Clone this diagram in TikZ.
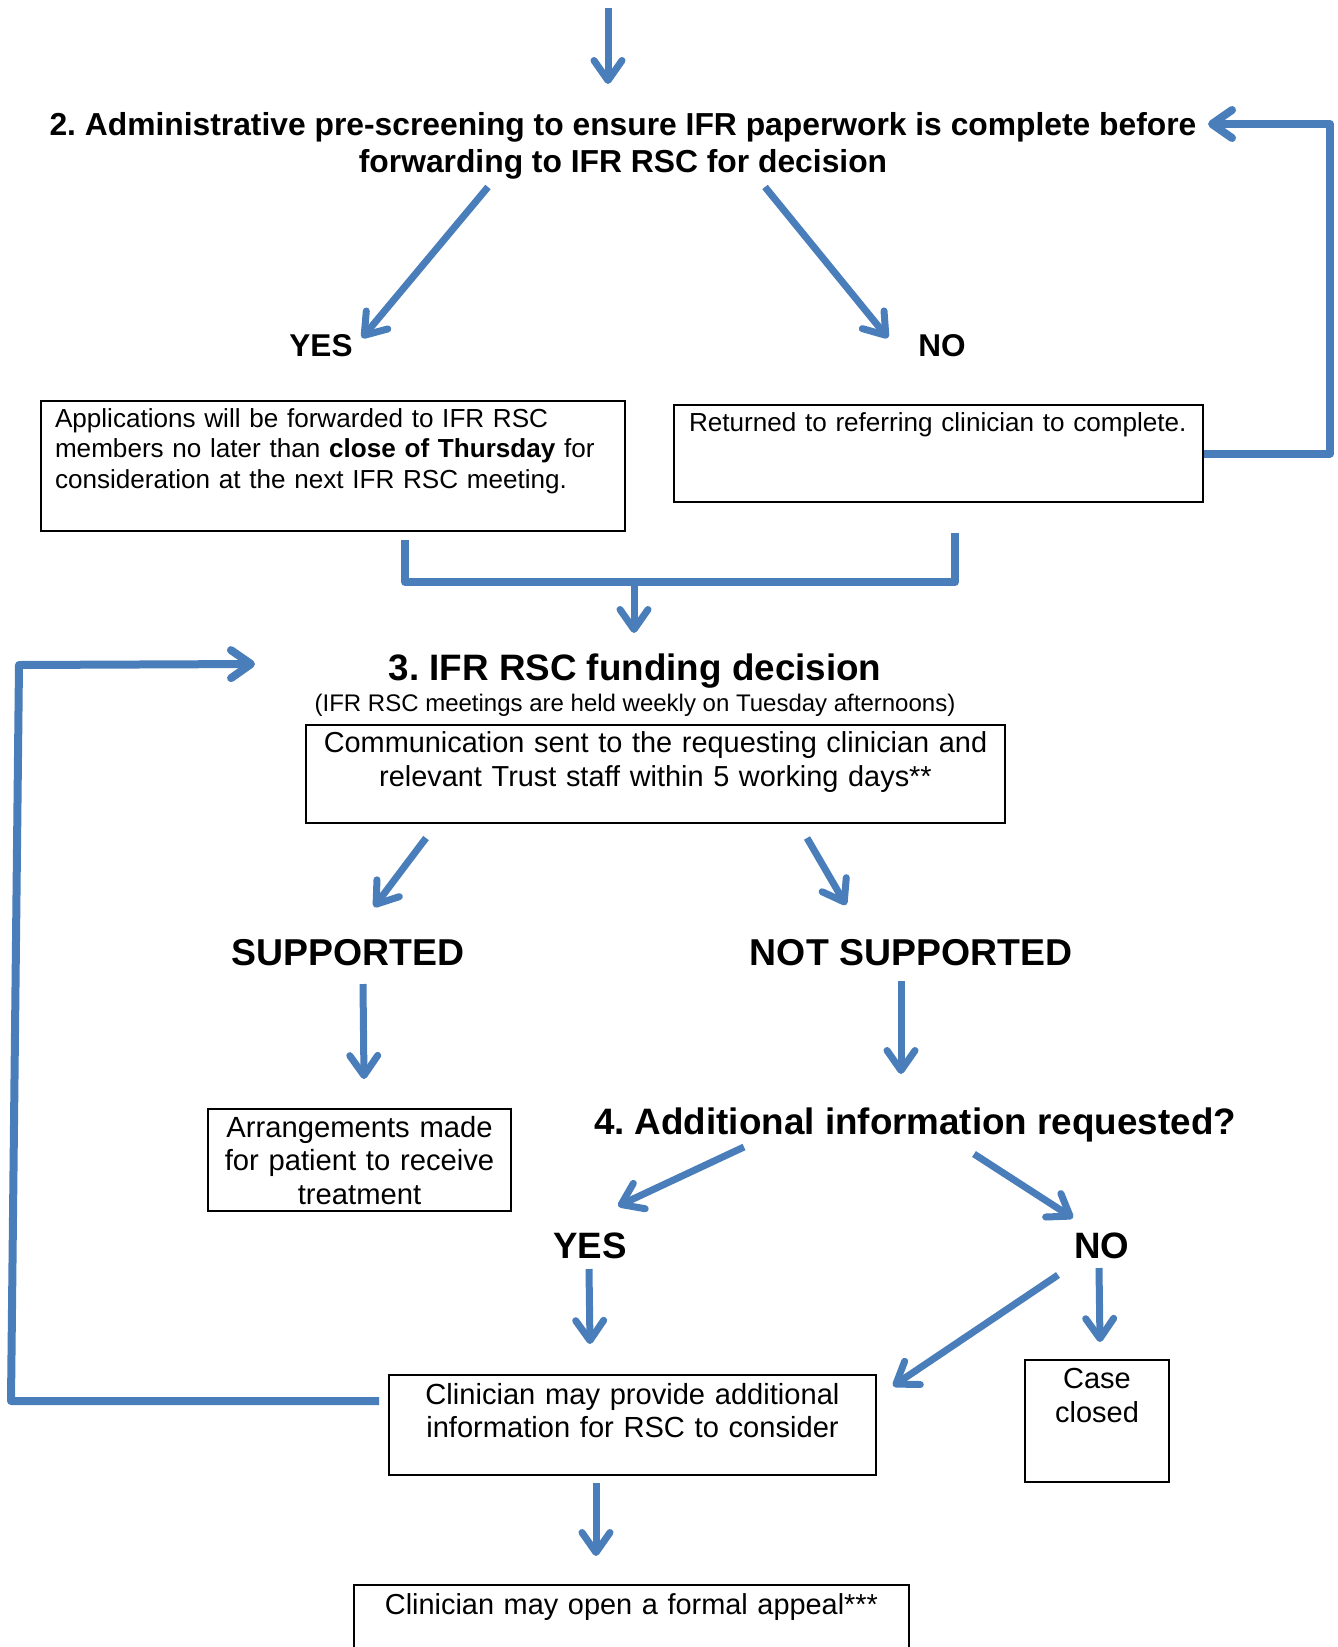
\documentclass[tikz,border=0pt]{standalone}
\usepackage{fontspec}
\setmainfont{Liberation Sans}
\usetikzlibrary{arrows.meta,calc}
\definecolor{ifrblue}{HTML}{4A7EBB}
\frenchspacing
\tikzset{
  arr/.style={draw=ifrblue, line width=7, -{Straight Barb[length=20pt,width=28pt,round]}},
  loopline/.style={draw=ifrblue, line width=8, line join=round},
  head/.style n args={2}{inner sep=0, align=center, font=\bfseries\fontsize{#1}{#2}\selectfont},
  box/.style n args={2}{draw, line width=2, anchor=north west, inner xsep=14, inner ysep=6,
    font=\fontsize{#1}{#2}\selectfont},
}

\begin{document}
\begin{tikzpicture}[x=1pt,y=-1pt]
\useasboundingbox (0,0) rectangle (1338,1647);

\coordinate (entry) at (608,8);
\node[head={31.8}{37}] (title2) at (623,146)
  {2. Administrative pre-screening to ensure IFR paperwork is complete before\\forwarding to IFR RSC for decision};
\node[head={31.5}{35}] (yes1) at (321,346) {YES};
\node[head={31.5}{35}] (no1) at (942,346) {NO};
\node[box={26.1}{30.5}, align=left, text width=556, text height=20, text depth=98] (apply) at (40,400)
  {Applications will be forwarded to IFR RSC\\members no later than \textbf{close of Thursday} for\\consideration at the next IFR RSC meeting.};
\node[box={26.1}{30.5}, inner xsep=15, align=left, text width=499, text height=20, text depth=65] (returned) at (673,404)
  {Returned to referring clinician to complete.};

\node[head={36.8}{42}] (title3) at (635,671) {3. IFR RSC funding decision};
\node[inner sep=0, font=\fontsize{24}{28}\selectfont] (sub3) at (635,705)
  {(IFR RSC meetings are held weekly on Tuesday afternoons)};
\node[box={28.9}{34.7}, align=center, text width=671, text height=21, text depth=65] (comm) at (305,724)
  {Communication sent to the requesting clinician and\\relevant Trust staff within 5 working days**};

\node[head={37.4}{42}] (supp) at (348,953) {SUPPORTED};
\node[head={37.4}{42}] (notsupp) at (911,953) {NOT SUPPORTED};
\node[box={29.2}{33.5}, inner xsep=6, align=center, text width=291, text height=22, text depth=68] (arrange) at (207,1108)
  {Arrangements made\\for patient to receive\\treatment};
\node[head={36.8}{42}] (title4) at (915,1125) {4. Additional information requested?};
\node[head={36.7}{42}] (yes2) at (590,1246) {YES};
\node[head={36.7}{42}] (no2) at (1102,1246) {NO};

\node[box={29.1}{33}, align=center, text width=459, text height=23, text depth=65] (clin) at (388,1374)
  {Clinician may provide additional\\information for RSC to consider};
\node[box={29}{34}, align=center, text width=116, text height=22, text depth=88] (closed) at (1024,1359)
  {Case\\closed};
\node[box={28.9}{33}, align=center, text width=527, text height=23, text depth=65] (appeal) at (353,1584)
  {Clinician may open a formal appeal***};

\draw[arr] (entry) -- ($(title2.center)+(-15,-62)$);
\draw[arr] ($(title2.center)+(-135,41)$) -- ($(yes1.center)+(41,-8)$);
\draw[arr] ($(title2.center)+(142,41)$) -- ($(no1.center)+(-54,-8)$);
\draw[arr, loopline] (returned.east) -- ++(126,0) |- ($(title2.center)+(585,-22)$);

\draw[loopline] ($(apply.south)+(72,8)$) -- ++(0,42) -| ($(returned.south)+(16.5,30)$);
\coordinate (merge) at ($(title3.center)+(-1,-91)$);
\draw[arr] (merge) -- ($(title3.center)+(-1,-38)$);
\draw[arr, loopline] ($(clin.west)+(-9,-24)$) -- ++(-368,0) -- ++(8,-736)
  -- ($(title3.center)+(-380,-7)$);

\draw[arr] ($(comm.center)+(-229.5,64)$) -- ($(supp.center)+(26,-46)$);
\draw[arr] ($(comm.center)+(151.5,64)$) -- ($(notsupp.center)+(-65,-48)$);
\draw[arr] ($(supp.center)+(15,31)$) -- ($(arrange.north)+(4.5,-29)$);
\draw[arr] ($(notsupp.center)+(-10,28)$) -- ($(title4.center)+(-14,-51)$);
\draw[arr] ($(title4.center)+(-171,22)$) -- ($(yes2.center)+(28,-40)$);
\draw[arr] ($(title4.center)+(59,29)$) -- ($(no2.center)+(-29,-28)$);
\draw[arr] ($(yes2.center)+(-1,23)$) -- ($(clin.north)+(-42.5,-30)$);
\draw[arr] ($(no2.center)+(-44,29)$) -- ($(clin.north east)+(16,12)$);
\draw[arr] ($(no2.center)+(-3,22)$) -- ($(closed.north)+(3,-17)$);
\draw[arr] ($(clin.south)+(-36.5,7)$) -- ($(appeal.north)+(-35.5,-28)$);
\end{tikzpicture}
\end{document}
